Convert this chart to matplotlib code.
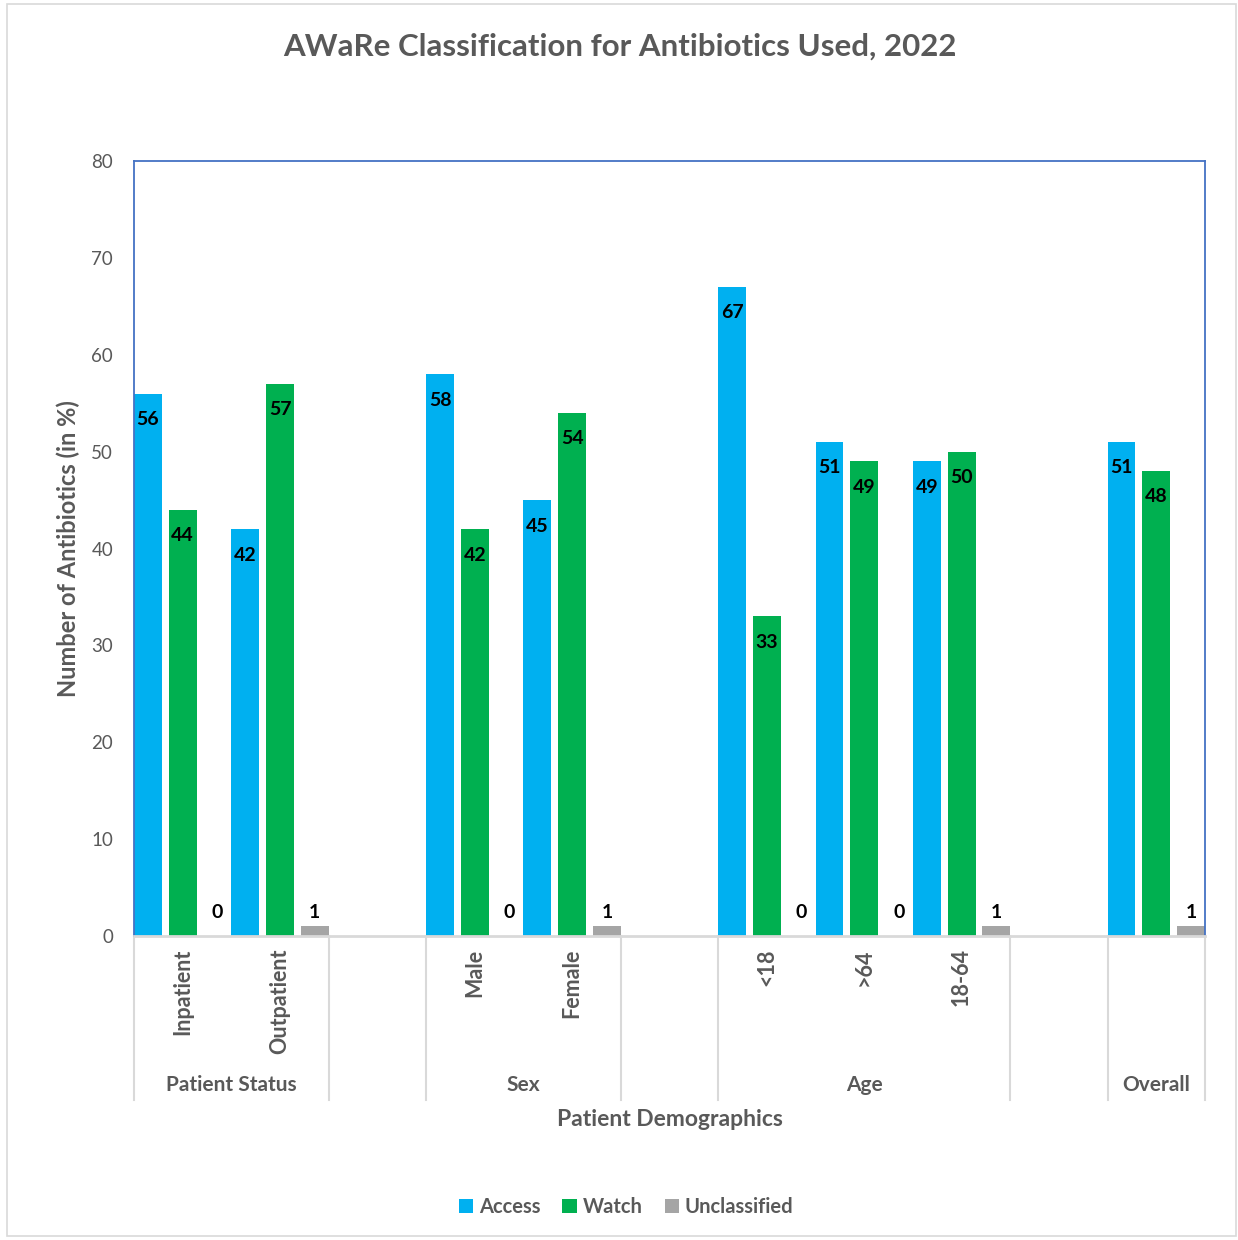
import matplotlib
matplotlib.use("Agg")
import matplotlib.pyplot as plt
from matplotlib.patches import Rectangle, Patch
import numpy as np

plt.rcParams['font.family'] = ['Lato', 'DejaVu Sans']

categories = ["Inpatient", "Outpatient", "", "Male", "Female", "", "<18", ">64", "18-64", "", ""]
groups = ["Patient Status", "Sex", "Age", "Overall"]
group_spans = [(0, 2), (3, 5), (6, 9), (10, 11)]
access = [56, 42, None, 58, 45, None, 67, 51, 49, None, 51]
watch = [44, 57, None, 42, 54, None, 33, 49, 50, None, 48]
unclassified = [0, 1, None, 0, 1, None, 0, 0, 1, None, 1]
series_names = ["Access", "Watch", "Unclassified"]
colors = ["#00B0F0", "#00B050", "#A5A5A5"]
yticks = [0, 10, 20, 30, 40, 50, 60, 70, 80]

GREY = "#595959"
W, H = 1238, 1240
fig = plt.figure(figsize=(W / 100, H / 100), dpi=100)
ax = fig.add_axes([134 / W, 1 - 936 / H, (1205 - 134) / W, (936 - 161) / H])

bw = 1 / 3.5
offsets = [bw / 2, 0.5, 1 - bw / 2]
for s, (vals, col, off) in enumerate(zip([access, watch, unclassified], colors, offsets)):
    xs = [i + off for i, v in enumerate(vals) if v is not None]
    vs = [v for v in vals if v is not None]
    ax.bar(xs, vs, width=bw, color=col, label=series_names[s], zorder=2)
    for x, v in zip(xs, vs):
        if v >= 10:
            ax.annotate(str(v), (x, v), xytext=(0, -26), textcoords="offset pixels",
                        ha="center", va="center", fontsize=14, fontweight="bold", color="black")
        else:
            ax.annotate(str(v), (x, 0), xytext=(0, 24), textcoords="offset pixels",
                        ha="center", va="center", fontsize=14, fontweight="bold", color="black")

ax.set_xlim(0, len(categories))
ax.set_ylim(0, 80)
ax.set_yticks(yticks)
ax.set_yticklabels([str(t) for t in yticks], fontsize=13.5, color=GREY)
ax.tick_params(axis="y", length=0, pad=15)
ax.set_xticks([])
for side in ["top", "left", "right"]:
    ax.spines[side].set_color("#4472C4")
    ax.spines[side].set_linewidth(1.3)
ax.spines["bottom"].set_color("#D9D9D9")
ax.spines["bottom"].set_linewidth(2)
ax.spines["bottom"].set_zorder(3)

ax.set_ylabel("Number of Antibiotics (in %)", fontsize=17, fontweight="bold", color=GREY, labelpad=8)

# category labels
trans = ax.get_xaxis_transform()
for i, c in enumerate(categories):
    if c:
        ax.text(i + 0.5, -0.016, c, rotation=90, ha="center", va="top", transform=trans,
                fontsize=15.5, fontweight="bold", color=GREY)
# group labels
for g, (a, b) in zip(groups, group_spans):
    ax.text((a + b) / 2, -0.192, g, ha="center", va="center", transform=trans,
            fontsize=15, fontweight="bold", color=GREY)
# separators
for xb in [0, 2, 3, 5, 6, 9, 10, 11]:
    ax.plot([xb, xb], [0, -0.2116], transform=trans, color="#D9D9D9", lw=1.5, clip_on=False, zorder=1)

ax.text(0.5, -0.237, "Patient Demographics", ha="center", va="center", transform=ax.transAxes,
        fontsize=16.5, fontweight="bold", color=GREY)

fig.text(620 / W, 1 - 47 / H, "AWaRe Classification for Antibiotics Used, 2022", ha="center", va="center",
         fontsize=22.5, fontweight="bold", color=GREY)

handles = [Patch(facecolor=c, edgecolor="none") for c in colors]
fig.legend(handles, series_names, loc="center", bbox_to_anchor=(626 / W, 1 - 1207 / H), ncol=3,
           frameon=False, handlelength=0.7, handleheight=0.7, handletextpad=0.3,
           columnspacing=1.1, labelcolor=GREY, prop={"weight": "bold", "size": 14.5})

fig.add_artist(Rectangle((7 / W, 4 / H), 1229 / W, 1232 / H, transform=fig.transFigure,
                         fill=False, edgecolor="#D9D9D9", lw=1.2))

fig.savefig("out.png", dpi=100)
